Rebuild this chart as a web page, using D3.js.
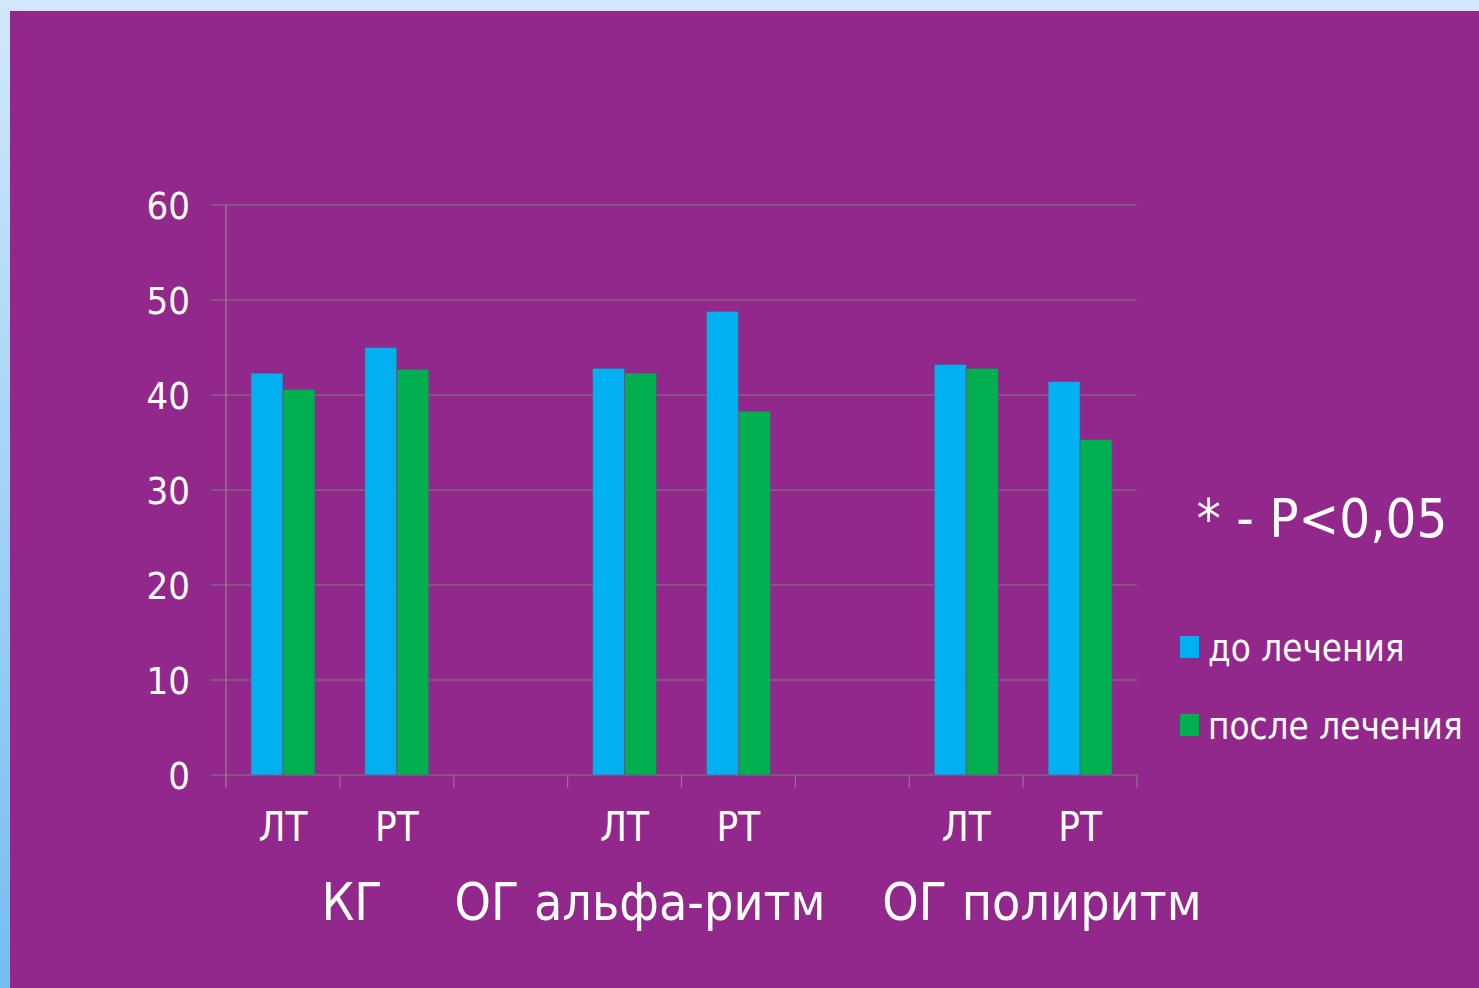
<!DOCTYPE html>
<html>
<head>
<meta charset="utf-8">
<script src="https://cdn.jsdelivr.net/npm/d3@7"></script>
<style>
  body { margin: 0; background: #d0e8fa; }
  text { font-family: "DejaVu Sans Condensed", "DejaVu Sans", sans-serif; fill: #fff; }
</style>
</head>
<body>
<svg id="chart" width="1479" height="988"></svg>
<script>
// data
const categories = ["c0", "c1", "c2", "c3", "c4", "c5", "c6", "c7"];
const catLabels = ["ЛТ", "РТ", "", "ЛТ", "РТ", "", "ЛТ", "РТ"];
const before = [42.3, 45.0, null, 42.8, 48.8, null, 43.2, 41.4];
const after = [40.6, 42.7, null, 42.3, 38.3, null, 42.8, 35.3];
const seriesNames = ["до лечения", "после лечения"];
const groupLabels = ["КГ", "ОГ альфа-ритм", "ОГ полиритм"];
const yTicks = [0, 10, 20, 30, 40, 50, 60];
const colors = ["#00b0f0", "#00b050"];

const svg = d3.select("#chart");

// background: light blue strip left, purple slide
const defs = svg.append("defs");
const grad = defs.append("linearGradient").attr("id", "side")
    .attr("x1", 0).attr("y1", 0).attr("x2", 0).attr("y2", 1);
grad.append("stop").attr("offset", 0).attr("stop-color", "#d0e8fa");
grad.append("stop").attr("offset", 1).attr("stop-color", "#74bdf1");
svg.append("rect").attr("width", 10).attr("height", 988).attr("fill", "url(#side)");
svg.append("rect").attr("x", 10).attr("y", 11).attr("width", 1469).attr("height", 977).attr("fill", "#92278c");

const x = d3.scaleBand().domain(categories).range([226, 1137]);
const y = d3.scaleLinear().domain([0, 60]).range([775, 205]);
const inner = d3.scaleBand().domain([0, 1]).range([0, x.bandwidth()]).paddingOuter(0.78);

// gridlines
svg.append("g").selectAll("line").data(yTicks).enter().append("line")
    .attr("x1", 211).attr("x2", 1137)
    .attr("y1", d => y(d)).attr("y2", d => y(d))
    .attr("stroke", "#808080").attr("stroke-width", 1.2);

// y axis line
svg.append("line").attr("x1", 226).attr("x2", 226).attr("y1", 205).attr("y2", 788)
    .attr("stroke", "#8a8a8a").attr("stroke-width", 1.2);

// category ticks
svg.append("g").selectAll("line").data(categories.slice(1).concat(["end"])).enter().append("line")
    .attr("x1", d => d === "end" ? x.range()[1] : x(d))
    .attr("x2", d => d === "end" ? x.range()[1] : x(d))
    .attr("y1", 775).attr("y2", 788)
    .attr("stroke", "#808080").attr("stroke-width", 1.2);

// y labels
svg.append("g").selectAll("text").data(yTicks).enter().append("text")
    .attr("x", 190).attr("y", d => y(d))
    .attr("dy", "0.36em")
    .attr("text-anchor", "end")
    .style("font-size", "38px")
    .text(d => d);

// bars
const rows = categories.map((c, i) => ({ c, vals: [before[i], after[i]] }));
const g = svg.append("g").selectAll("g").data(rows).enter().append("g")
    .attr("transform", d => `translate(${x(d.c)},0)`);
g.selectAll("rect").data(d => d.vals.map((v, k) => ({ v, k })).filter(e => e.v != null))
    .enter().append("rect")
    .attr("x", d => inner(d.k))
    .attr("width", inner.bandwidth())
    .attr("y", d => y(d.v))
    .attr("height", d => y(0) - y(d.v))
    .attr("fill", d => colors[d.k])
    .attr("stroke", "#6a4a80").attr("stroke-width", 0.6);

// category labels
svg.append("g").selectAll("text").data(categories).enter().append("text")
    .attr("x", (d, i) => x(d) + x.bandwidth() / 2)
    .attr("y", 841)
    .attr("text-anchor", "middle")
    .style("font-size", "40px")
    .text((d, i) => catLabels[i]);

// group labels
const groupX = [352, 640, 1042];
svg.append("g").selectAll("text").data(groupLabels).enter().append("text")
    .attr("x", (d, i) => groupX[i]).attr("y", 920)
    .attr("text-anchor", "middle")
    .style("font-size", "51.5px")
    .text(d => d);

// significance note
svg.append("text").attr("x", 1322).attr("y", 537)
    .attr("text-anchor", "middle")
    .style("font-size", "54px")
    .text("* - P<0,05");

// legend
const leg = svg.append("g").selectAll("g").data(seriesNames).enter().append("g")
    .attr("transform", (d, i) => `translate(1180,${636 + i * 78})`);
leg.append("rect").attr("width", 19).attr("height", 22).attr("fill", (d, i) => colors[i]);
leg.append("text").attr("x", 28).attr("y", 25).style("font-size", "36.5px").text(d => d);
</script>
</body>
</html>
